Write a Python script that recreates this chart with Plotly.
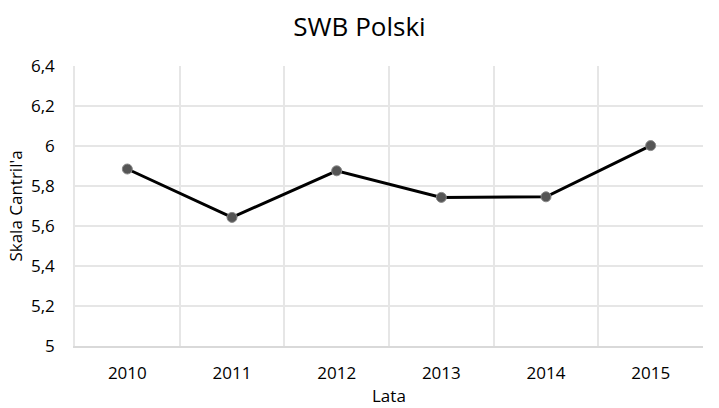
import plotly.graph_objects as go

years = ["2010", "2011", "2012", "2013", "2014", "2015"]
swb = [5.885, 5.643, 5.876, 5.743, 5.746, 6.002]
x_title = "Lata"
y_title = "Skala Cantril'a"
chart_title = "SWB Polski"

fig = go.Figure()
fig.add_trace(go.Scatter(
    x=years, y=swb, mode="lines+markers",
    line=dict(color="#000000", width=3),
    marker=dict(size=10, color="#555555", line=dict(color="#888888", width=1)),
    showlegend=False,
))

font_family = "Open Sans"
fig.update_layout(
    width=719, height=408,
    paper_bgcolor="white", plot_bgcolor="white",
    margin=dict(l=75, r=16, t=66, b=62, autoexpand=False),
    separators=", ",
    font=dict(family=font_family, color="#000000", size=17),
    title=dict(text=chart_title, x=0.5, xanchor="center", y=0.934, yanchor="middle",
               font=dict(family=font_family, size=26, color="#000000")),
    annotations=[dict(text=x_title, xref="paper", yref="paper", x=0.5, y=-0.2205,
                      xanchor="center", yanchor="bottom", showarrow=False,
                      borderpad=0, font=dict(size=17, color="#000000"))],
)
fig.update_xaxes(
    type="category", tickson="boundaries", showgrid=True, gridcolor="#e6e6e6", gridwidth=1.5,
    showline=True, linecolor="#d9d9d9", linewidth=1.5, mirror=False,
    ticks="", ticklabelstandoff=11, tickfont=dict(size=17),
    range=[-0.5, 5.5], automargin=False,
)
fig.update_yaxes(
    range=[5, 6.4], dtick=0.2, tick0=5, showgrid=True, gridcolor="#e6e6e6", gridwidth=1.5,
    showline=True, linecolor="#e6e6e6", linewidth=1.5, zeroline=False,
    ticks="outside", ticklen=15, tickcolor="rgba(0,0,0,0)", tickfont=dict(size=17),
    title=dict(text=y_title, font=dict(size=17), standoff=4),
    automargin=False,
)
fig.write_html("out.html", config={"displayModeBar": False},
               post_script="document.body.style.margin='0';")
